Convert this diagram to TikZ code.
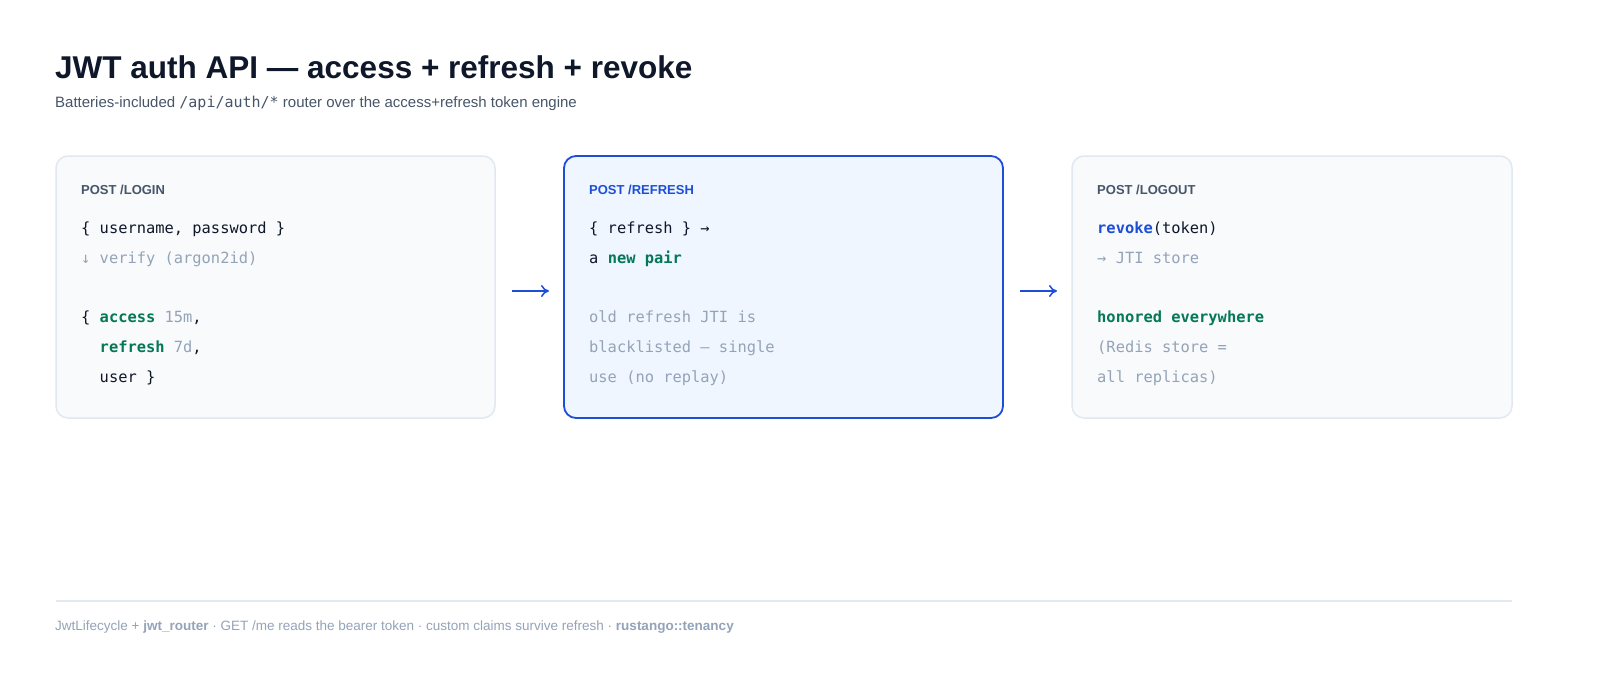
\documentclass[tikz,border=0pt]{standalone}
\usepackage{fontspec}
\usetikzlibrary{arrows.meta}
\setmainfont{Liberation Sans}
\setmonofont{DejaVu Sans Mono}
\begin{document}
\definecolor{ink}{HTML}{0F172A}
\definecolor{slate}{HTML}{475569}
\definecolor{mute}{HTML}{94A3B8}
\definecolor{grn}{HTML}{047857}
\definecolor{blu}{HTML}{1D4ED8}
\definecolor{boxf}{HTML}{F8FAFC}
\definecolor{boxd}{HTML}{E2E8F0}
\definecolor{bluf}{HTML}{EFF6FF}
\begin{tikzpicture}[x=1pt,y=-1pt,
  card/.style={draw=boxd,fill=boxf,line width=1.5pt,rounded corners=12pt},
  hot/.style={draw=blu,fill=bluf,line width=1.8pt,rounded corners=12pt},
  hd/.style={anchor=base west,inner sep=0,font=\fontsize{13}{15}\selectfont\bfseries,text=slate},
  ln/.style={anchor=base west,inner sep=0,font=\fontsize{15.4}{18}\ttfamily,text=ink},
  arr/.style={draw=blu,line width=1.5pt,-{To[length=8pt,width=12pt]}}]
\useasboundingbox[fill=white] (0,0) rectangle (1600,680);
\node[anchor=base west,inner sep=0,font=\fontsize{31.5}{36}\selectfont\bfseries,text=ink] (title) at (55,78) {JWT auth API — access + refresh + revoke};
\node[anchor=base west,inner sep=0,font=\fontsize{15}{18}\selectfont,text=slate] (sub) at (55,107) {Batteries-included {\ttfamily /api/auth/*} router over the access+refresh token engine};
\newcommand{\G}[1]{\textcolor{grn}{\bfseries #1}}
\newcommand{\M}[1]{\textcolor{mute}{#1}}
% card 1
\draw[card] (56,156) rectangle (495,418);
\node[hd] (h1) at (81,194) {POST /LOGIN};
\node[ln] (a1) at (81,233) {\{ username, password \}};
\node[ln,text=mute] (a2) at (81,263) {↓ verify (argon2id)};
\node[ln] (a3) at (81,322) {\{ \G{access} \M{15m},};
\node[ln] (a4) at (81,352) {\ \ \G{refresh} \M{7d},};
\node[ln] (a5) at (81,382) {\ \ user \}};
% card 2
\draw[hot] (564,156) rectangle (1003,418);
\node[hd,text=blu] (h2) at (589,194) {POST /REFRESH};
\node[ln] (b1) at (589,233) {\{ refresh \} →};
\node[ln] (b2) at (589,263) {a \G{new pair}};
\node[ln,text=mute] (b3) at (589,322) {old refresh JTI is};
\node[ln,text=mute] (b4) at (589,352) {blacklisted — single};
\node[ln,text=mute] (b5) at (589,382) {use (no replay)};
% card 3
\draw[card] (1072,156) rectangle (1512,418);
\node[hd] (h3) at (1097,194) {POST /LOGOUT};
\node[ln] (c1) at (1097,233) {\textcolor{blu}{\bfseries revoke}(token)};
\node[ln,text=mute] (c2) at (1097,263) {→ JTI store};
\node[ln] (c3) at (1097,322) {\G{honored everywhere}};
\node[ln,text=mute] (c4) at (1097,352) {(Redis store =};
\node[ln,text=mute] (c5) at (1097,382) {all replicas)};
% arrows
\coordinate (p1) at (512,291); \coordinate (q1) at (549,291);
\coordinate (p2) at (1020,291); \coordinate (q2) at (1057,291);
\draw[arr] (p1) -- (q1);
\draw[arr] (p2) -- (q2);
% footer
\coordinate (f1) at (56,601); \coordinate (f2) at (1512,601);
\draw[draw=boxd,line width=1.2pt] (f1) -- (f2);
\node[anchor=base west,inner sep=0,font=\fontsize{13.5}{16}\selectfont,text=mute] (foot) at (55,630) {JwtLifecycle + \textbf{jwt\_router} · GET /me reads the bearer token · custom claims survive refresh · \textbf{rustango::tenancy}};
\end{tikzpicture}
\end{document}
